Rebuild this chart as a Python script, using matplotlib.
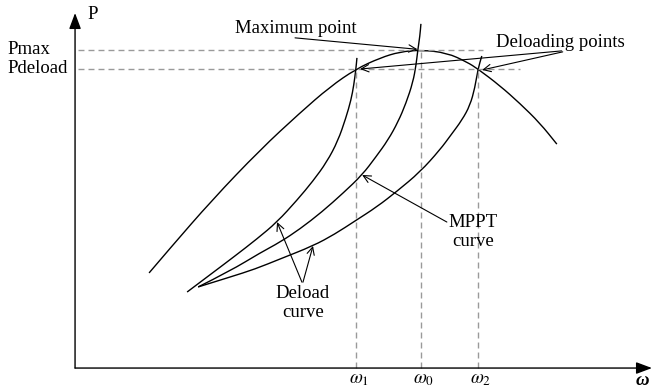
import matplotlib
matplotlib.use("Agg")
import matplotlib.pyplot as plt
from matplotlib.path import Path
from matplotlib.patches import PathPatch

plt.rcParams['font.family'] = ['Liberation Serif', 'DejaVu Serif']
plt.rcParams['mathtext.fontset'] = 'stix'

# per-unit speed (omega / omega_0) and per-unit power (P / Pmax)
omega_0 = 1.0
omega_1 = 0.812
omega_2 = 1.165
p_max = 1.0
p_deload = 0.940

# power-speed curve of the turbine at the given wind speed
turbine_w = [0.214, 0.275, 0.396, 0.535, 0.650, 0.737, 0.812, 0.882, 0.939,
             1.000, 1.075, 1.133, 1.165, 1.228, 1.286, 1.344, 1.393]
turbine_p = [0.299, 0.377, 0.528, 0.686, 0.802, 0.884, 0.940, 0.975, 0.994,
             1.000, 0.991, 0.962, 0.940, 0.888, 0.832, 0.770, 0.704]

# deload curve through omega_1
deload1_w = [0.324, 0.390, 0.462, 0.526, 0.584, 0.642, 0.688, 0.728, 0.760,
             0.783, 0.798, 0.806, 0.812, 0.815]
deload1_p = [0.239, 0.293, 0.352, 0.406, 0.459, 0.528, 0.588, 0.648, 0.714,
             0.786, 0.843, 0.890, 0.940, 0.975]

# MPPT curve through the maximum point
mppt_w = [0.356, 0.448, 0.535, 0.593, 0.650, 0.714, 0.775, 0.830, 0.870,
          0.905, 0.934, 0.957, 0.977, 0.986, 0.991, 0.997, 1.000]
mppt_p = [0.255, 0.305, 0.362, 0.396, 0.437, 0.491, 0.550, 0.607, 0.664,
          0.717, 0.774, 0.833, 0.899, 0.953, 1.000, 1.044, 1.082]

# deload curve through omega_2
deload2_w = [0.356, 0.448, 0.520, 0.593, 0.688, 0.751, 0.809, 0.873, 0.931,
             0.997, 1.055, 1.087, 1.119, 1.142, 1.156, 1.165, 1.176]
deload2_p = [0.255, 0.286, 0.311, 0.343, 0.384, 0.421, 0.462, 0.507, 0.556,
             0.616, 0.686, 0.733, 0.780, 0.826, 0.881, 0.940, 0.981]

tick_pos = [omega_1, omega_0, omega_2]
tick_labels = [r'$\omega_1$', r'$\omega_0$', r'$\omega_2$']


def smooth_curve(ax, w, p):
    # quadratic spline path through the sampled points
    verts = [(w[0], p[0])]
    codes = [Path.MOVETO]
    for i in range(1, len(w) - 1):
        verts += [(w[i], p[i]), ((w[i] + w[i + 1]) / 2, (p[i] + p[i + 1]) / 2)]
        codes += [Path.CURVE3, Path.CURVE3]
    verts.append((w[-1], p[-1]))
    codes.append(Path.LINETO)
    ax.add_patch(PathPatch(Path(verts, codes), fill=False, edgecolor='black',
                           lw=1.0, capstyle='butt'))


fig = plt.figure(figsize=(6.53, 3.90), dpi=100)
ax = fig.add_axes([0, 0, 1, 1])
ax.set_xlim(-0.217, 1.671)
ax.set_ylim(-0.069, 1.157)
ax.axis('off')

fs = 13.5
grey = '#9a9a9a'
dash = dict(color=grey, lw=1.0, dashes=(4.3, 2.9))

# reference lines
ax.plot([0.009, 1.179], [p_max, p_max], **dash)
ax.plot([0.009, 1.286], [p_deload, p_deload], **dash)
ax.plot([omega_1, omega_1], [0, p_deload], **dash)
ax.plot([omega_0, omega_0], [0, p_max], **dash)
ax.plot([omega_2, omega_2], [0, p_deload], **dash)

# curves
for w, p in [(turbine_w, turbine_p), (deload1_w, deload1_p),
             (mppt_w, mppt_p), (deload2_w, deload2_p)]:
    smooth_curve(ax, w, p)

# axes with arrows
axis_arrow = dict(arrowstyle='-|>,head_length=0.8,head_width=0.3',
                  color='black', lw=1.0, mutation_scale=12,
                  shrinkA=0, shrinkB=0)
ax.annotate('', xy=(0, 1.116), xytext=(0, 0), arrowprops=axis_arrow)
ax.annotate('', xy=(1.668, 0), xytext=(0, 0), arrowprops=axis_arrow)

ax.text(0.035, 1.0975, 'P', fontsize=fs, ha='left', va='baseline')
ax.text(-0.1965, 0.987, 'Pmax', fontsize=fs, ha='left', va='baseline')
ax.text(-0.1965, 0.928, 'Pdeload', fontsize=fs, ha='left', va='baseline')
ax.text(1.640, -0.040, 'ω', fontsize=fs, ha='center', va='center',
        fontstyle='italic', fontweight='bold')

for pos, lab in zip(tick_pos, tick_labels):
    ax.text(pos + 0.008, -0.008, lab, fontsize=fs, ha='center', va='top')

# annotations
thin = dict(arrowstyle='->,head_length=0.45,head_width=0.22', color='black',
            lw=0.8, mutation_scale=12, shrinkA=0, shrinkB=0)

ax.text(0.639, 1.0535, 'Maximum point', fontsize=fs, ha='center', va='baseline')
ax.annotate('', xy=(0.990, 1.002), xytext=(0.636, 1.038), arrowprops=thin)

ax.text(1.402, 1.009, 'Deloading points', fontsize=fs, ha='center', va='baseline')
ax.annotate('', xy=(omega_1 + 0.012, p_deload), xytext=(1.407, 0.997),
            arrowprops=thin)
ax.annotate('', xy=(omega_2 + 0.012, p_deload - 0.003), xytext=(1.410, 0.994),
            arrowprops=thin)

ax.text(1.15, 0.485, 'MPPT\ncurve', fontsize=fs, ha='center', va='top',
        linespacing=1.15)
ax.annotate('', xy=(mppt_w[7], mppt_p[7]), xytext=(1.075, 0.459),
            arrowprops=thin)

ax.text(0.659, 0.262, 'Deload\ncurve', fontsize=fs, ha='center', va='top',
        linespacing=1.15)
ax.annotate('', xy=(deload1_w[4], deload1_p[4]), xytext=(0.656, 0.270),
            arrowprops=thin)
ax.annotate('', xy=(deload2_w[4], deload2_p[4]), xytext=(0.659, 0.270),
            arrowprops=thin)

fig.savefig('out.png', dpi=100)
